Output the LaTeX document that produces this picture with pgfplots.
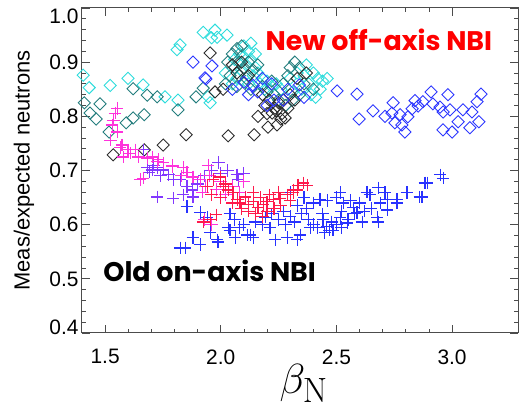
\documentclass[border=0pt]{standalone}
\usepackage[no-math]{fontspec}
\setmainfont{Liberation Sans}
\newfontfamily\gothic{Poppins}
\usepackage{graphicx}
\usepackage{pgfplots}
\pgfplotsset{compat=1.18}
\usetikzlibrary{calc}

\definecolor{dcyan}{RGB}{45,220,220}
\definecolor{dteal}{RGB}{35,125,125}
\definecolor{dblack}{RGB}{45,45,45}
\definecolor{dblue}{RGB}{45,55,255}
\definecolor{pmag}{RGB}{255,50,220}
\definecolor{ppurp}{RGB}{130,55,255}
\definecolor{pred}{RGB}{255,25,75}
\definecolor{pblue}{RGB}{40,50,255}

\pgfplotsset{
  dia/.style={only marks, draw=#1, mark=square, mark size=4.3bp,
    every mark/.append style={rotate=45, line width=0.9bp, draw=#1}},
  pls/.style={only marks, draw=#1, mark=+, mark size=6.3bp,
    every mark/.append style={line width=1.1bp, draw=#1}},
}

\begin{document}
\begin{tikzpicture}
\begin{axis}[
  scale only axis, width=436bp, height=325bp,
  xmin=1.4, xmax=3.285, ymin=0.4, ymax=1.0,
  xtick={1.5,2.0,2.5,3.0}, xticklabels={1.5,2.0,2.5,3.0},
  ytick={0.4,0.5,0.6,0.7,0.8,0.9,1.0},
  yticklabels={\raisebox{-1.5bp}[0pt][0pt]{0.4},0.5,0.6,0.7,0.8,0.9,\raisebox{-15.5bp}[0pt][0pt]{1.0}},
  minor x tick num=4, minor y tick num=4,
  tick align=inside, major tick length=8bp, minor tick length=4bp,
  axis line style={black!70, line width=1bp},
  tick style={black!70, line width=0.8bp},
  ticklabel style={font=\fontsize{21}{21}\selectfont},
  xticklabel style={yshift=-13bp},
  ylabel={Meas/expected neutrons},
  ylabel style={font=\fontsize{22}{22}\selectfont, at={(axis description cs:-0.133,0.5)}, anchor=center},
  xlabel={\scalebox{1.7}{$\beta_{\mathrm{N}}$}},
  xlabel style={font=\fontsize{24.88}{25}\selectfont, at={(axis description cs:0.509,-0.155)}, anchor=center},
]
% off-axis: cyan diamonds
\addplot[dia=dcyan] coordinates {
(1.405,0.876) (1.431,0.853) (1.522,0.857) (1.599,0.870) (1.664,0.858) (1.759,0.836)
(1.815,0.830) (1.811,0.923) (1.824,0.932) (1.924,0.955) (1.975,0.959) (1.984,0.946)
(1.960,0.945) (2.027,0.950) (1.945,0.836) (1.954,0.825) (2.06,0.905) (2.08,0.915)
(2.10,0.910) (2.12,0.920) (2.11,0.895) (2.13,0.905) (2.15,0.890) (2.14,0.875)
(2.16,0.880) (2.18,0.870) (2.09,0.885) (2.07,0.870) (2.12,0.860) (2.17,0.860)
(2.20,0.865) (2.22,0.855) (2.19,0.850) (2.24,0.860) (2.05,0.860) (2.02,0.880)
(2.15,0.915) (2.30,0.870) (2.33,0.880) (2.36,0.875) (2.38,0.860) (2.40,0.880)
(2.42,0.870) (2.44,0.865) (2.35,0.850) (2.39,0.840) (2.43,0.850) (2.41,0.835)
(2.46,0.870) (2.37,0.895) (2.31,0.845) (2.26,0.850) (2.10,0.930) (2.13,0.935)
};
% teal diamonds
\addplot[dia=dteal] coordinates {
(1.410,0.825) (1.435,0.806) (1.478,0.823) (1.461,0.795) (1.517,0.771) (1.621,0.851)
(1.591,0.788) (1.621,0.797) (1.669,0.803) (1.682,0.839) (1.725,0.836) (1.815,0.812)
(1.893,0.836) (1.924,0.852) (2.03,0.900) (2.05,0.915) (2.07,0.925) (2.09,0.930)
(2.06,0.890) (2.08,0.900) (2.10,0.890) (2.12,0.900) (2.04,0.875) (2.08,0.875)
(2.11,0.870) (2.14,0.885) (2.16,0.895) (2.13,0.850) (2.18,0.855) (2.20,0.845)
(2.23,0.840) (2.25,0.830) (2.22,0.865) (2.27,0.860) (2.30,0.890) (2.32,0.900)
(2.34,0.890) (2.29,0.875) (2.36,0.860) (2.31,0.830) (2.28,0.820) (2.34,0.840)
(2.40,0.850) (2.07,0.855) (2.02,0.860)
};
% black diamonds
\addplot[dia=dblack] coordinates {
(1.535,0.729) (1.669,0.738) (1.751,0.747) (1.850,0.766) (2.032,0.764) (2.144,0.766)
(1.954,0.917) (1.975,0.845) (2.204,0.780) (2.243,0.784) (2.161,0.800) (2.222,0.806)
(2.265,0.805) (2.278,0.797) (2.235,0.815) (2.25,0.825) (2.21,0.830) (2.19,0.820)
(2.27,0.830) (2.29,0.815) (2.30,0.840) (2.32,0.830) (2.07,0.880) (2.09,0.900)
(2.05,0.895) (2.12,0.875) (2.18,0.840) (2.26,0.795) (2.24,0.810) (2.20,0.805)
(2.33,0.870) (2.37,0.880) (2.01,0.850)
};
% blue diamonds
\addplot[dia=dblue] coordinates {
(1.880,0.900) (1.932,0.871) (1.962,0.893) (1.936,0.869) (2.10,0.863) (2.14,0.857)
(2.22,0.860) (2.23,0.830) (2.27,0.830) (2.34,0.858) (2.36,0.835) (2.16,0.845)
(2.12,0.840) (2.05,0.850) (2.20,0.820) (2.29,0.850) (2.18,0.870)
(2.503,0.847) (2.589,0.841) (2.598,0.795) (2.658,0.810) (2.710,0.800) (2.745,0.825)
(2.740,0.806) (2.753,0.788) (2.775,0.803) (2.783,0.784) (2.796,0.771) (2.809,0.799)
(2.827,0.814) (2.840,0.829) (2.853,0.819) (2.874,0.827) (2.909,0.845) (2.917,0.823)
(2.948,0.817) (2.961,0.808) (2.961,0.775) (2.982,0.840) (2.991,0.812) (3.000,0.771)
(3.026,0.790) (3.047,0.812) (3.077,0.779) (3.086,0.808) (3.108,0.827) (3.116,0.790)
(3.125,0.841)
};
% on-axis: blue plus
\addplot[pls=pblue] coordinates {
(1.854,0.633) (1.824,0.557) (1.846,0.557) (1.880,0.576) (1.911,0.563) (1.984,0.572)
(2.032,0.594) (2.062,0.576) (2.127,0.581) (2.140,0.576) (2.213,0.594) (2.235,0.572)
(2.287,0.576) (2.192,0.614) (1.954,0.585) (1.988,0.568) (2.040,0.590) (2.114,0.581)
(1.911,0.622) (1.941,0.614) (2.429,0.646) (2.516,0.659) (2.529,0.640) (2.572,0.631)
(2.589,0.622) (2.611,0.605) (2.632,0.660) (2.645,0.655) (2.680,0.668) (2.710,0.659)
(2.719,0.646) (2.719,0.627) (2.762,0.640) (2.805,0.659) (2.861,0.651) (2.883,0.677)
(2.459,0.596) (2.485,0.590) (2.442,0.609) (2.386,0.594) (2.343,0.581) (2.330,0.572)
(2.516,0.613) (2.546,0.603) (2.676,0.614) (2.680,0.605) (2.689,0.640) (2.948,0.692)
(2.961,0.686) (2.892,0.677) (2.870,0.651) (2.762,0.646)
(2.25,0.610) (2.28,0.600) (2.30,0.615) (2.32,0.605) (2.35,0.620) (2.38,0.610)
(2.40,0.600) (2.42,0.595) (2.45,0.585) (2.47,0.590) (2.50,0.600) (2.52,0.595)
(2.48,0.605) (2.44,0.620) (2.37,0.630) (2.33,0.635) (2.27,0.625) (2.22,0.620)
(2.18,0.600) (2.15,0.605) (2.10,0.600) (2.06,0.610) (2.04,0.620) (2.08,0.595)
(2.55,0.610) (2.58,0.620) (2.60,0.640) (2.62,0.625) (2.56,0.645) (2.65,0.630)
(2.40,0.640) (2.46,0.645) (2.50,0.650) (2.36,0.650) (2.30,0.660) (2.52,0.625)
};
% purple plus
\addplot[pls=ppurp] coordinates {
(1.664,0.738) (1.682,0.705) (1.703,0.701) (1.725,0.705) (1.751,0.701) (1.773,0.692)
(1.794,0.683) (1.824,0.683) (1.854,0.670) (1.876,0.664) (1.837,0.655) (1.880,0.651)
(1.725,0.651) (1.794,0.649) (1.690,0.697) (1.710,0.710) (1.740,0.690) (1.900,0.675)
(1.930,0.690) (1.960,0.700) (2.000,0.695) (2.030,0.700) (1.990,0.715) (2.070,0.692)
(2.100,0.695) (2.075,0.683)
};
% magenta plus
\addplot[pls=pmag] coordinates {
(1.552,0.815) (1.543,0.806) (1.535,0.793) (1.530,0.784) (1.552,0.771) (1.522,0.756)
(1.565,0.742) (1.578,0.725) (1.608,0.732) (1.630,0.738) (1.643,0.725) (1.682,0.723)
(1.703,0.725) (1.729,0.720) (1.751,0.714) (1.790,0.707) (1.837,0.705) (1.854,0.697)
(1.880,0.688) (1.911,0.683) (1.932,0.670) (1.664,0.686) (1.651,0.683) (1.725,0.716)
(1.599,0.738) (1.573,0.747) (2.00,0.680) (2.05,0.670) (2.08,0.660) (2.10,0.680)
(1.95,0.690) (2.02,0.655) (1.98,0.665) (1.79,0.710) (1.83,0.690) (1.945,0.710)
(1.92,0.660) (1.93,0.610) (1.96,0.600)
};
% red plus
\addplot[pls=pred] coordinates {
(1.941,0.670) (1.967,0.683) (1.997,0.688) (2.010,0.670) (2.032,0.664) (2.053,0.659)
(2.071,0.646) (2.083,0.640) (2.105,0.651) (2.118,0.637) (2.140,0.642) (2.161,0.631)
(2.183,0.637) (2.200,0.642) (2.226,0.646) (2.256,0.649) (2.287,0.655) (2.313,0.664)
(2.334,0.673) (2.356,0.677) (2.373,0.673) (2.313,0.659) (2.330,0.664) (1.954,0.609)
(1.924,0.605) (1.980,0.618) (2.15,0.620) (2.18,0.615) (2.20,0.625) (2.23,0.630)
(2.12,0.625) (2.09,0.630) (2.05,0.640) (2.00,0.650) (1.96,0.655) (2.26,0.635)
(2.30,0.645) (2.25,0.660) (2.21,0.655) (2.17,0.650) (2.02,0.675) (2.14,0.660)
};
\node[font=\gothic\bfseries\fontsize{27}{27}\selectfont, text=red]
  at (axis description cs:0.681,0.902) {New off-axis NBI};
\node[font=\gothic\bfseries\fontsize{27}{27}\selectfont, anchor=west]
  at (axis description cs:0.041,0.191) {Old on-axis NBI};
\end{axis}
\pgfresetboundingbox
\path[use as bounding box] ($(current axis.south west)+(-82bp,-78bp)$) rectangle ($(current axis.north east)+(1bp,8bp)$);
\end{tikzpicture}
\end{document}
